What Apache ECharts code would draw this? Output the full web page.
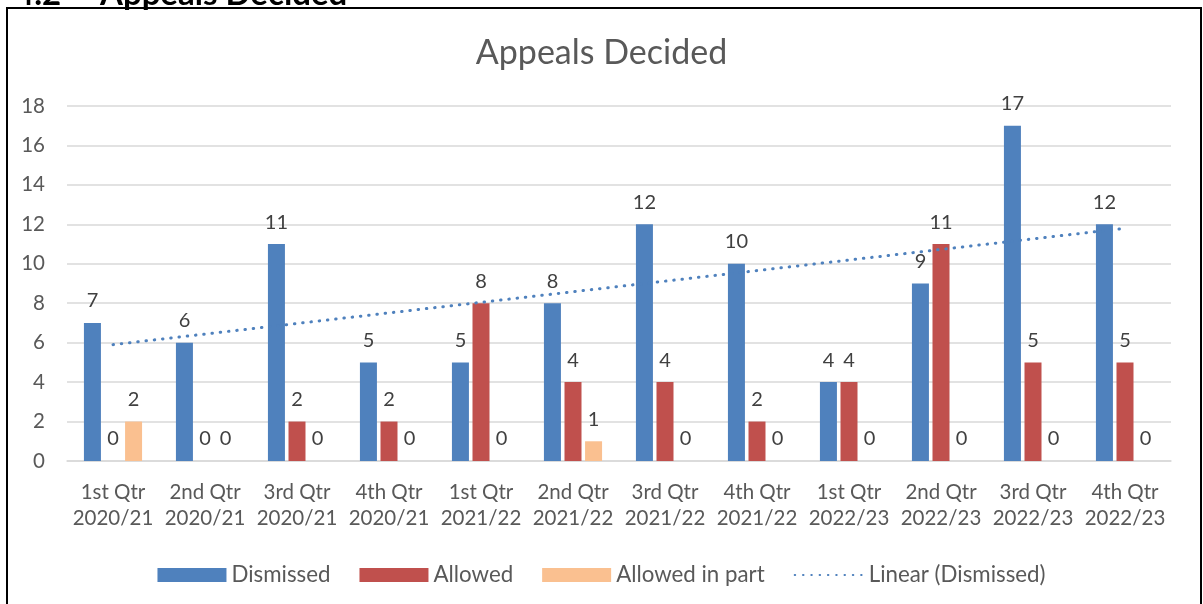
<!DOCTYPE html>
<html>
<head>
<meta charset="utf-8">
<style>
html,body{margin:0;padding:0;background:#fff;}
#chart{width:1203px;height:604px;}
</style>
<script src="https://cdn.jsdelivr.net/npm/echarts@6/dist/echarts.min.js"></script>
</head>
<body>
<div id="chart"></div>
<script>
var categories = ['1st Qtr\n2020/21','2nd Qtr\n2020/21','3rd Qtr\n2020/21','4th Qtr\n2020/21',
                  '1st Qtr\n2021/22','2nd Qtr\n2021/22','3rd Qtr\n2021/22','4th Qtr\n2021/22',
                  '1st Qtr\n2022/23','2nd Qtr\n2022/23','3rd Qtr\n2022/23','4th Qtr\n2022/23'];
var dismissed = [7, 6, 11, 5, 5, 8, 12, 10, 4, 9, 17, 12];
var allowed = [0, 0, 2, 2, 8, 4, 4, 2, 4, 11, 5, 5];
var allowedInPart = [2, 0, 0, 0, 0, 1, 0, 0, 0, 0, 0, 0];
// Linear trendline of Dismissed, endpoints
var trendStart = 5.9;
var trendEnd = 11.8;
var yTicks = [0, 2, 4, 6, 8, 10, 12, 14, 16, 18];

var trend = categories.map(function (c, i) {
  if (i === 0) return trendStart;
  if (i === categories.length - 1) return trendEnd;
  return null;
});

var FONT = 'Lato';
var labelStyle = {show: true, position: 'top', distance: 12, color: '#404040', fontSize: 20, fontFamily: FONT};

var chart = echarts.init(document.getElementById('chart'), null, {renderer: 'canvas'});
chart.setOption({
  animation: false,
  backgroundColor: '#ffffff',
  title: {
    text: 'Appeals Decided',
    left: 'center',
    top: 31,
    textStyle: {fontFamily: FONT, fontSize: 34, fontWeight: 'normal', color: '#595959'}
  },
  graphic: [
    {type: 'rect', shape: {x: 7, y: 8, width: 1194, height: 620},
     style: {fill: 'none', stroke: '#000', lineWidth: 2}, silent: true, z: 100},
    {type: 'text', x: 15, y: -22, style: {text: '4.2', fontFamily: FONT, fontWeight: 'bold', fontSize: 33,
      fill: '#000', verticalAlign: 'top', align: 'left'}},
    {type: 'text', x: 100, y: -22, style: {text: 'Appeals Decided', fontFamily: FONT, fontWeight: 'bold', fontSize: 33,
      fill: '#000', verticalAlign: 'top', align: 'left'}}
  ],
  legend: {
    bottom: 13,
    left: 'center',
    itemWidth: 69,
    itemHeight: 14,
    itemGap: 29,
    itemTextGap: 12,
    textStyle: {fontFamily: FONT, fontSize: 22.3, color: '#595959'},
    data: [
      {name: 'Dismissed', icon: 'rect'},
      {name: 'Allowed', icon: 'rect'},
      {name: 'Allowed in part', icon: 'rect'},
      {name: 'Linear (Dismissed)', itemStyle: {opacity: 0}}
    ]
  },
  grid: {left: 67, right: 32, top: 106, bottom: 143, containLabel: false},
  xAxis: {
    type: 'category',
    data: categories,
    axisLine: {show: true, lineStyle: {color: '#d9d9d9', width: 1.5}},
    axisTick: {show: false},
    axisLabel: {fontFamily: FONT, fontSize: 20.5, color: '#595959', margin: 18, lineHeight: 26, interval: 0}
  },
  yAxis: {
    type: 'value',
    min: yTicks[0],
    max: yTicks[yTicks.length - 1],
    interval: yTicks[1] - yTicks[0],
    axisLine: {show: false},
    axisTick: {show: false},
    splitLine: {lineStyle: {color: '#d9d9d9', width: 1.5}},
    axisLabel: {fontFamily: FONT, fontSize: 20.5, color: '#595959', margin: 22}
  },
  series: [
    {name: 'Dismissed', type: 'bar', data: dismissed, barWidth: 17, barGap: '21%',
     itemStyle: {color: '#4F81BD'}, label: labelStyle},
    {name: 'Allowed', type: 'bar', data: allowed, barWidth: 17, barGap: '21%',
     itemStyle: {color: '#C0504D'}, label: labelStyle},
    {name: 'Allowed in part', type: 'bar', data: allowedInPart, barWidth: 17, barGap: '21%',
     itemStyle: {color: '#FAC090'}, label: labelStyle},
    {name: 'Linear (Dismissed)', type: 'line', data: trend, connectNulls: true, symbol: 'none',
     itemStyle: {color: '#4F81BD'},
     lineStyle: {color: '#4F81BD', width: 3, type: [0.5, 7.8], cap: 'round'}, z: 5}
  ]
});
</script>
</body>
</html>
